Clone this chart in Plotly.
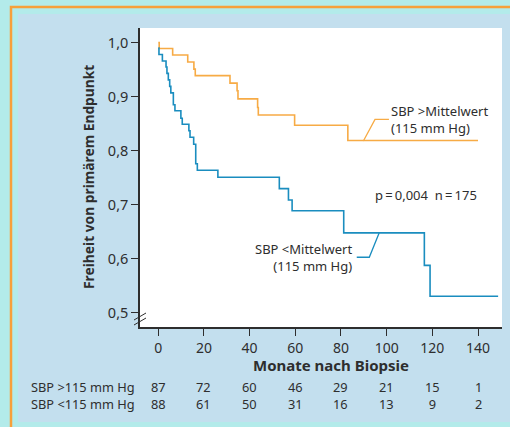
import plotly.graph_objects as go

# ---- data ----
months_hi = [0, 0.4, 6.3, 12.9, 15.6, 16.2, 31.4, 34.5, 34.9, 43.5, 43.8, 59.7, 83.0, 140.0]
surv_hi = [1.0, 0.989, 0.977, 0.964, 0.951, 0.939, 0.925, 0.911, 0.896, 0.880, 0.866, 0.847, 0.819, 0.819]

months_lo = [0, 0.3, 1.8, 3.4, 3.8, 4.4, 5.0, 5.5, 6.6, 7.3, 9.9, 10.5, 13.4, 13.9, 15.5,
             16.4, 17.1, 26.1, 53.0, 57.0, 58.6, 81.2, 116.5, 119.0, 148.8]
surv_lo = [0.990, 0.978, 0.966, 0.955, 0.943, 0.931, 0.919, 0.907, 0.885, 0.874, 0.860,
           0.849, 0.837, 0.825, 0.812, 0.776, 0.764, 0.751, 0.730, 0.709, 0.689, 0.648,
           0.588, 0.531, 0.531]

risk_months = [0, 20, 40, 60, 80, 100, 120, 140]
risk_hi = [87, 72, 60, 46, 29, 21, 15, 1]
risk_lo = [88, 61, 50, 31, 16, 13, 9, 2]
risk_labels = ["SBP >115 mm Hg", "SBP <115 mm Hg"]

y_ticks = [0.5, 0.6, 0.7, 0.8, 0.9, 1.0]
x_ticks = [0, 20, 40, 60, 80, 100, 120, 140]

# ---- styling ----
ORANGE = "#f7ab45"
BLUE = "#1a8dbf"
TXT = "#2e2e2e"
CYAN = "#b3ebea"
PANEL = "#c3dfee"
BORDER = "#f7a03a"
FONT = "Noto Sans"

W, H = 510, 427
L, R, T, B = 140, 8, 28, 100
PW, PH = W - L - R, H - T - B

def px(x):
    return (x - L) / PW

def py(y):
    return (H - B - y) / PH

fig = go.Figure()
fig.add_trace(go.Scatter(x=months_hi, y=surv_hi, mode="lines", line=dict(color=ORANGE, width=1.6, shape="hv"),
                         showlegend=False, hoverinfo="skip"))
fig.add_trace(go.Scatter(x=months_lo, y=surv_lo, mode="lines", line=dict(color=BLUE, width=1.6, shape="hv"),
                         showlegend=False, hoverinfo="skip"))

shapes = [
    dict(type="rect", xref="paper", yref="paper", x0=px(18), x1=px(540), y0=py(14), y1=py(422),
         fillcolor=PANEL, line=dict(width=0), layer="below"),
    dict(type="rect", xref="paper", yref="paper", x0=px(11), x1=px(540), y0=py(7), y1=py(460),
         fillcolor="rgba(0,0,0,0)", line=dict(color=BORDER, width=2.5), layer="below"),
    dict(type="rect", xref="paper", yref="paper", x0=0, x1=1, y0=0, y1=1,
         fillcolor="white", line=dict(width=0), layer="below"),
    # axis break marks
    dict(type="line", xref="paper", yref="paper", x0=px(134), y0=py(320), x1=px(146), y1=py(313),
         line=dict(color=TXT, width=1)),
    dict(type="line", xref="paper", yref="paper", x0=px(134), y0=py(325), x1=px(146), y1=py(318),
         line=dict(color=TXT, width=1)),
    # leader lines
    dict(type="path", xref="x", yref="y", path="M 101.0 0.858 L 94.9 0.858 L 89.8 0.818",
         line=dict(color=ORANGE, width=1.3)),
    dict(type="path", xref="x", yref="y", path="M 86.9 0.603 L 92.4 0.603 L 96.7 0.648",
         line=dict(color=BLUE, width=1.3)),
]

AF = dict(size=13, color=TXT, family=FONT)
TF = dict(size=12.8, color=TXT, family=FONT)
ann = [
    dict(x=101.2, y=0.858, xref="x", yref="y", text="SBP >Mittelwert<br>(115 mm Hg)", showarrow=False,
         xanchor="left", yanchor="middle", align="left", font=AF),
    dict(x=85.6, y=0.602, xref="x", yref="y", text="SBP <Mittelwert<br>(115 mm Hg)", showarrow=False,
         xanchor="right", yanchor="middle", align="right", font=AF),
    dict(x=117.4, y=0.718, xref="x", yref="y", text="p\u2009=\u20090,004  n\u2009=\u2009175", showarrow=False,
         xanchor="center", yanchor="middle", font=AF),
    dict(x=px(330.5), y=py(364.5), xref="paper", yref="paper", text="<b>Monate nach Biopsie</b>",
         showarrow=False, xanchor="center", yanchor="middle", font=dict(size=15, color=TXT, family=FONT)),
    dict(x=px(88), y=py(177), xref="paper", yref="paper", text="<b>Freiheit von primärem Endpunkt</b>",
         showarrow=False, textangle=-90, xanchor="center", yanchor="middle",
         font=dict(size=13.8, color=TXT, family=FONT)),
]
TABLE_Y = 395.3
ann.append(dict(x=px(29), y=py(TABLE_Y), xref="paper", yref="paper", text="<br>".join(risk_labels),
                showarrow=False, xanchor="left", yanchor="middle", align="left", font=TF))
for m, a, b in zip(risk_months, risk_hi, risk_lo):
    ann.append(dict(x=m, y=py(TABLE_Y), xref="x", yref="paper", text=f"{a}<br>{b}", showarrow=False,
                    xanchor="center", yanchor="middle", align="center", font=TF))

fig.update_layout(
    width=W, height=H, margin=dict(l=L, r=R, t=T, b=B, autoexpand=False),
    paper_bgcolor=CYAN, plot_bgcolor="rgba(0,0,0,0)",
    separators=",.",
    shapes=shapes, annotations=ann,
    font=dict(family=FONT, color=TXT, size=13),
    xaxis=dict(range=[-8, 150.5], tickvals=x_ticks, ticks="outside", ticklen=7, tickwidth=1.2,
               tickcolor=TXT, showline=True, linecolor=TXT, linewidth=1.5, showgrid=False,
               zeroline=False, tickfont=dict(size=14, color=TXT, family=FONT)),
    yaxis=dict(range=[0.474, 1.027], tickvals=y_ticks, tickformat=".1f", ticks="outside", ticklen=7,
               tickwidth=1.2, tickcolor=TXT, showline=True, linecolor=TXT, linewidth=1.5,
               showgrid=False, zeroline=False, tickfont=dict(size=14.5, color=TXT, family=FONT)),
)

fig.write_html("out.html", config={"displayModeBar": False},
               post_script="document.body.style.margin='0';document.body.style.padding='0';")
